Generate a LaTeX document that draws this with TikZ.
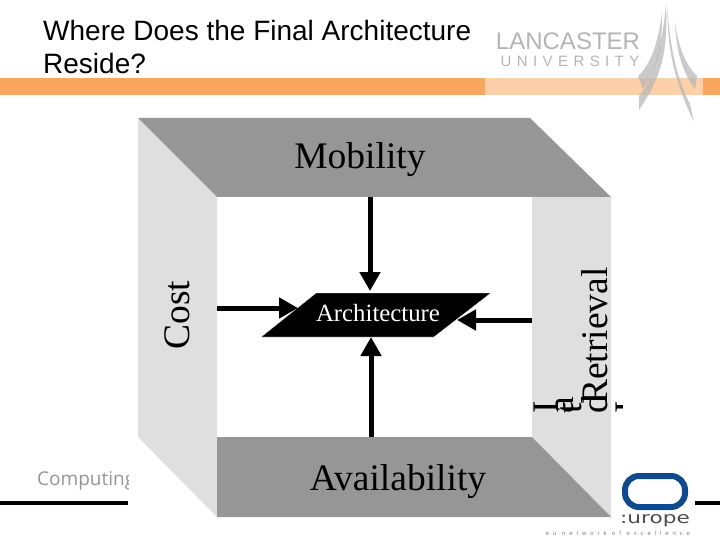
\documentclass[tikz,border=0pt]{standalone}
\usepackage{fontspec}
\usetikzlibrary{arrows.meta}
\setsansfont{Liberation Sans}
\setmainfont{Liberation Serif}
\newfontfamily\spacedfont[LetterSpace=36]{Liberation Sans}
\newfontfamily\netfont[LetterSpace=65]{Liberation Sans}
\newfontfamily\footfont{Open Sans}
\newfontfamily\wideeufont{DejaVu Sans}
\definecolor{barorange}{HTML}{F9A65E}
\definecolor{barpale}{HTML}{FDD0A9}
\definecolor{sidegrey}{HTML}{DFDFDF}
\definecolor{facegrey}{HTML}{969696}
\definecolor{logogrey}{HTML}{B4B4B4}
\definecolor{logoblue}{HTML}{114A8C}
\tikzset{
	facelabel/.style={font=\fontsize{37.5}{37.5}\selectfont,inner sep=0pt},
	sidelabel/.style={font=\fontsize{37.5}{37.5}\selectfont,inner sep=0pt,rotate=90},
	push/.style={line width=5pt,-{Triangle[length=19pt,width=20pt]}},
	prong/.style={logogrey,opacity=.7},
}
\begin{document}
\begin{tikzpicture}[x=1pt,y=-1pt,>=stealth, line join=round]
	\useasboundingbox (0,0) rectangle (720,540);
	% title bar
	\fill[barorange] (0,78) rectangle (485,95);
	\fill[barpale] (485,78) rectangle (703,95);
	\fill[barorange] (703,78) rectangle (720,95);
	\node[anchor=west,align=left,inner sep=0pt,font=\sffamily\fontsize{28}{33}\selectfont] (title) at (43,47) {Where Does the Final Architecture\\Reside?};
	% logo top right
	\node[logogrey,inner sep=0pt,font=\sffamily\fontsize{24}{24}\selectfont] (lancaster) at (568,41) {LANCASTER};
	\node[logogrey,inner sep=0pt,font=\spacedfont\fontsize{15}{15}\selectfont] (lancs) at (570,61) {UNIVERSITY};
	\fill[prong] (666,3) .. controls (667,40) and (667,70) .. (639,110) -- (639,96) .. controls (652,80) and (662,50) .. (666,3);
	\fill[prong] (662,12) .. controls (662,45) and (660,62) .. (643,89) -- (638,76) .. controls (650,65) and (658,45) .. (662,12);
	\fill[prong] (667,3) .. controls (668,40) and (669,70) .. (694,122) -- (690,104) .. controls (680,85) and (670,55) .. (667,3);
	\fill[prong] (675,22) .. controls (676,50) and (682,72) .. (695,89) -- (697,76) .. controls (685,65) and (678,45) .. (675,22);
	% footer
	\begin{scope}
		\clip (0,460) rectangle (128,500);
		\node[anchor=west,inner sep=0pt,text=black!42,font=\footfont\fontsize{19}{19}\selectfont] (computing) at (37,481) {Computing};
	\end{scope}
	\fill[black] (0,501) rectangle (128,505);
	\fill[black] (695,501) rectangle (720,505);
	% the box
	\fill[sidegrey] (138,118) -- (217,197) -- (217,517) -- (138,437) -- cycle;
	\fill[sidegrey] (532,197) -- (611,197) -- (611,517) -- (532,437) -- cycle;
	\fill[facegrey] (138,118) -- (530,118) -- (611,197) -- (217,197) -- cycle;
	\fill[facegrey] (217,437) -- (532,437) -- (611,517) -- (217,517) -- cycle;
	% logo bottom right
	\draw[logoblue,line width=6pt,rounded corners=14pt] (625,476) rectangle (685,507);
	\node[inner sep=0pt,text=black!70,font=\wideeufont\fontsize{16}{16}\selectfont] (urope) at (655,521) {\scalebox{1.35}[1]{:urope}};
	\node[inner sep=0pt,text=black!50,font=\netfont\fontsize{6}{6}\selectfont] (network) at (618,533) {eu network of excellence};
	% labels
	\node[facelabel] (mobility) at (360,160) {Mobility};
	\node[facelabel] (availability) at (398,482) {Availability};
	\node[sidelabel] (cost) at (177,315) {Cost};
	\node[sidelabel,anchor=base west] (retrieval) at (607,405) {Retrieval};
	\begin{scope}
		\clip (530,380) rectangle (622,415);
		\foreach \x/\t in {558/I,573/a,581/t,607/d,640/I} \node[sidelabel,anchor=base west] at (\x,414) {\t};
	\end{scope}
	% centre
	\fill[black,draw=white,line width=.4pt] (316,293) -- (491,293) -- (434,337) -- (261,337) -- cycle;
	\node[text=white,inner sep=0pt,font=\fontsize{24.8}{24.8}\selectfont] (architecture) at (378,313) {Architecture};
	\coordinate (mobstart) at (370,197);
	\coordinate (mobtip) at (370,291);
	\coordinate (availstart) at (371,437);
	\coordinate (availtip) at (371,337);
	\coordinate (coststart) at (217,308);
	\coordinate (costtip) at (298,308);
	\coordinate (retstart) at (532,320);
	\coordinate (rettip) at (457,320);
	\draw[push] (mobstart) -- (mobtip);
	\draw[push] (availstart) -- (availtip);
	\draw[push] (coststart) -- (costtip);
	\draw[push] (retstart) -- (rettip);
\end{tikzpicture}
\end{document}
